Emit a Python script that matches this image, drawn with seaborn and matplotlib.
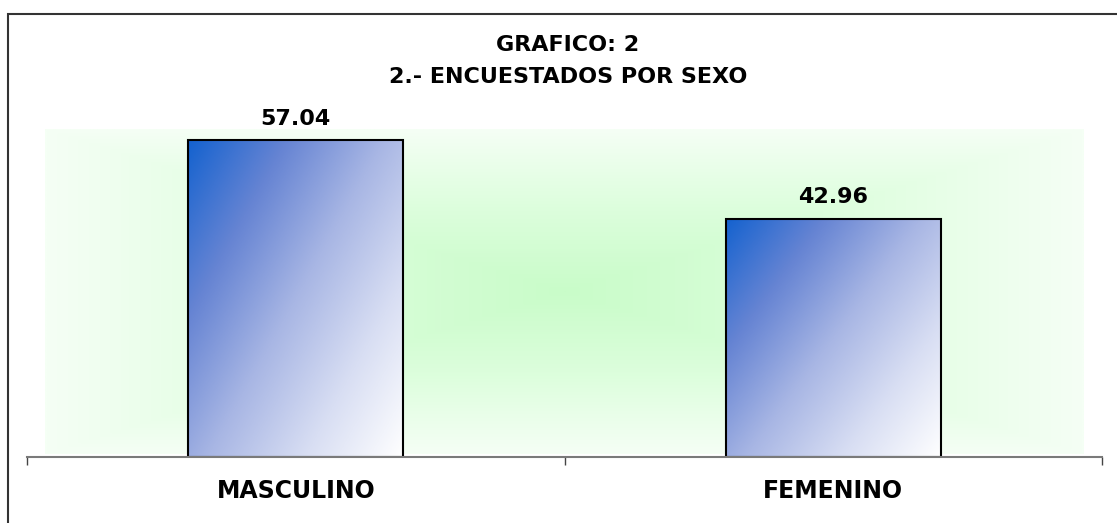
import numpy as np
import pandas as pd
import seaborn as sns
import matplotlib.pyplot as plt
from matplotlib.colors import LinearSegmentedColormap
from matplotlib.patches import Rectangle

# datos
categorias = ['MASCULINO', 'FEMENINO']
porcentajes = [57.04, 42.96]
titulo = 'GRAFICO: 2\n2.- ENCUESTADOS POR SEXO'

df = pd.DataFrame({'Sexo': categorias, 'Porcentaje': porcentajes})

sns.set_theme(style='white')
plt.rcParams['font.family'] = ['DejaVu Sans']
plt.rcParams['text.color'] = 'black'
plt.rcParams['xtick.color'] = 'black'

fig = plt.figure(figsize=(11.17, 5.23), dpi=100)
ax = fig.add_axes([0.0242, 0.1262, 0.9624, 0.6367])

sns.barplot(data=df, x='Sexo', y='Porcentaje', width=0.4, color='white',
            edgecolor='black', linewidth=1.5, ax=ax)

# fondo verde con degradado desde el centro
yy, xx = np.mgrid[-1:1:300j, -1:1:300j]
dist = np.maximum(np.abs(xx), np.abs(yy))
verde = LinearSegmentedColormap.from_list('verde', ['#c9fcc9', '#dcfedc', '#f5fff5'])
ax.imshow(dist, cmap=verde, vmin=0, vmax=1, extent=[0.017, 0.983, 0.01, 0.985],
          transform=ax.transAxes, aspect='auto', zorder=0, interpolation='bilinear')

# barras con degradado diagonal azul -> blanco
azul = LinearSegmentedColormap.from_list(
    'azul', ['#1462cf', '#6684d3', '#a8b6e4', '#d8def3', '#ffffff'])
u, v = np.meshgrid(np.linspace(0, 1, 200), np.linspace(0, 1, 200))
t = 0.55 * u + 0.45 * v
for bar in ax.patches:
    x0, y0 = bar.get_x(), bar.get_y()
    w, h = bar.get_width(), bar.get_height()
    im = ax.imshow(t, cmap=azul, vmin=0, vmax=1, extent=[x0, x0 + w, y0, y0 + h],
                   aspect='auto', zorder=1.5, interpolation='bilinear')
    im.set_clip_path(bar)
    bar.set_facecolor('none')
    bar.set_zorder(2)

ax.set_xlim(-0.5, 1.5)
ax.set_ylim(0, 60)

ax.bar_label(ax.containers[0], fmt='%.2f', padding=8, fontsize=16,
             fontweight='bold', color='black')

# ejes
ax.set_xlabel('')
ax.set_ylabel('')
ax.set_yticks([])
ax.set_xticks([-0.5, 0.5, 1.5], labels=['', '', ''])
ax.set_xticks([0, 1], labels=categorias, minor=True)
ax.tick_params(axis='x', which='major', direction='out', length=6, width=1,
               color='#444444', bottom=True)
ax.tick_params(axis='x', which='minor', length=0, pad=16, labelsize=17,
               labelcolor='black')
for lbl in ax.get_xticklabels(minor=True):
    lbl.set_fontweight('bold')
for s in ['top', 'left', 'right']:
    ax.spines[s].set_visible(False)
ax.spines['bottom'].set_color('#7a7a7a')
ax.spines['bottom'].set_linewidth(1.5)
ax.set_facecolor('white')

fig.text(568 / 1117, 1 - 61 / 523, titulo, ha='center', va='center',
         fontsize=16, fontweight='bold', linespacing=1.7, color='black')

# marco exterior
fig.add_artist(Rectangle((8 / 1117, -0.05), 1.2, 1 - 14 / 523 + 0.05,
                         transform=fig.transFigure, fill=False,
                         edgecolor='#333333', linewidth=1.5))

fig.savefig('out.png', dpi=100)
